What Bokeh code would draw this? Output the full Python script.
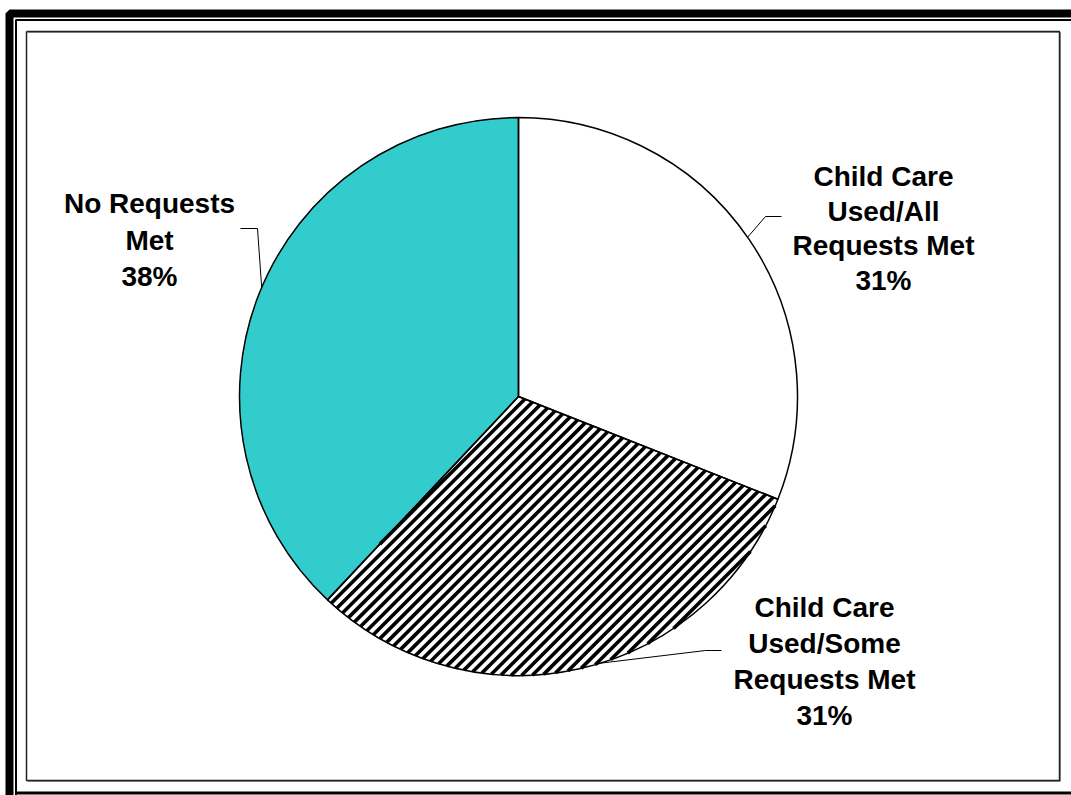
import numpy as np
from bokeh.plotting import figure
from bokeh.models import Range1d, ColumnDataSource
from bokeh.embed import file_html
from bokeh.resources import INLINE
from bokeh.core.properties import value

# ---------------- data ----------------
categories = ["Child Care Used/All Requests Met",
              "Child Care Used/Some Requests Met",
              "No Requests Met"]
shares = [31, 31, 38]
label_lines = [["Child Care", "Used/All", "Requests Met"],
               ["Child Care", "Used/Some", "Requests Met"],
               ["No Requests", "Met"]]
pct_labels = ["31%", "31%", "38%"]

# ---------------- styling / layout ----------------
W, H = 1071, 795
fills = ["#FFFFFF", "#FFFFFF", "#33CCCC"]
striped = [False, True, False]
STRIPE_DX = 10.5       # horizontal spacing of the diagonal stripes (px)
STRIPE_W = 3.6         # stripe thickness (px)
CX, CY_PX, R = 518, 396, 279          # pie centre (pixels from top) and radius
FONT = value("Liberation Sans")
FSIZE = "28px"

# label blocks: centre x, first baseline (px from top), line step
label_pos = [(883, 176, 34.5), (824, 607, 36.0), (149, 203, 36.5)]
# leader lines: angular tweak of the anchor, elbow point, end point (px from top)
leader = [(0.6, (765, 216), (781, 216)),
          (4.5, (705, 650), (721, 650)),
          (-1.4, (257, 228), (240, 228))]


def Y(ypx):
    return H - ypx


p = figure(width=W, height=H, x_range=Range1d(0, W), y_range=Range1d(0, H),
           output_backend="svg", toolbar_location=None, min_border=0,
           x_axis_location=None, y_axis_location=None)
p.grid.visible = False
p.outline_line_color = None
p.background_fill_color = "white"
p.border_fill_color = "white"

# ---------------- page frame ----------------
p.line(x=[9, 9, W + 20], y=[Y(H + 20), Y(13), Y(13)], line_color="black", line_width=8)
p.line(x=[15.5, 15.5, W + 20], y=[Y(H + 20), Y(19.5), Y(19.5)], line_color="black", line_width=2)
p.line(x=[15.5, W + 20], y=[Y(792.5), Y(792.5)], line_color="black", line_width=3)
p.line(x=[27, 1060, 1060, 27], y=[Y(781), Y(781), Y(32), Y(32)], line_color="#9a9a9a", line_width=1)
p.line(x=[26, 1059, 1059, 26, 26], y=[Y(31), Y(31), Y(780), Y(780), Y(31)],
       line_color="#202020", line_width=1.5)

# ---------------- pie ----------------
vals = np.array(shares, dtype=float)
frac = vals / vals.sum()
cum = np.concatenate([[0], np.cumsum(frac)])
start = np.pi / 2 - 2 * np.pi * cum[:-1]
end = np.pi / 2 - 2 * np.pi * cum[1:]
mid = (start + end) / 2
cy = Y(CY_PX)

src = ColumnDataSource(dict(x=[CX] * 3, y=[cy] * 3, start=start, end=end,
                            fill=fills, cat=categories, share=shares))
p.wedge(x="x", y="y", radius=R, start_angle="start", end_angle="end", direction="clock",
        source=src, fill_color="fill", line_color=None)


# diagonal stripes clipped to a (convex) sector
def sector_stripes(a_start, a_end):
    ds = np.array([np.cos(a_start), np.sin(a_start)])
    de = np.array([np.cos(a_end), np.sin(a_end)])
    d = np.array([1.0, 1.0]) / np.sqrt(2)
    xs, ys = [], []
    for c in np.arange(-2 * R, 2 * R, STRIPE_DX):
        p0 = np.array([c, 0.0])            # line: (x - y) = c, relative to centre
        b = p0 @ d
        cc = p0 @ p0 - R * R
        disc = b * b - cc
        if disc <= 0:
            continue
        t1, t2 = -b - np.sqrt(disc), -b + np.sqrt(disc)
        ok = True
        # cross(de, p) >= 0  and  cross(ds, p) <= 0
        for vec, sgn in ((de, 1.0), (ds, -1.0)):
            a0 = sgn * (vec[0] * p0[1] - vec[1] * p0[0])
            a1 = sgn * (vec[0] * d[1] - vec[1] * d[0])
            if abs(a1) < 1e-12:
                if a0 < 0:
                    ok = False
                continue
            tr = -a0 / a1
            if a1 > 0:
                t1 = max(t1, tr)
            else:
                t2 = min(t2, tr)
        if ok and t2 > t1:
            q1 = p0 + t1 * d
            q2 = p0 + t2 * d
            xs.append([CX + q1[0], CX + q2[0]])
            ys.append([cy + q1[1], cy + q2[1]])
    return xs, ys


for i in range(3):
    if striped[i]:
        sx, sy = sector_stripes(start[i], end[i])
        p.multi_line(xs=sx, ys=sy, line_color="black", line_width=STRIPE_W)

p.wedge(x="x", y="y", radius=R, start_angle="start", end_angle="end", direction="clock",
        source=src, fill_color=None, line_color="black", line_width=1.5)

# ---------------- leader lines ----------------
for i, (tw, elbow, endp) in enumerate(leader):
    a = mid[i] + np.deg2rad(tw)
    ax = CX + R * np.cos(a)
    ay = cy + R * np.sin(a)
    p.line(x=[ax, elbow[0], endp[0]], y=[ay, Y(elbow[1]), Y(endp[1])],
           line_color="black", line_width=1)

# ---------------- labels ----------------
tx, ty, tt = [], [], []
for i, (lx, ly0, step) in enumerate(label_pos):
    lines = label_lines[i] + [pct_labels[i]]
    for k, s in enumerate(lines):
        tx.append(lx)
        ty.append(Y(ly0 + k * step))
        tt.append(s)
p.text(x=tx, y=ty, text=tt, text_align="center", text_baseline="alphabetic",
       text_font=FONT, text_font_style="bold", text_font_size=FSIZE, text_color="black")

open("out.html", "w").write(file_html(p, INLINE))
